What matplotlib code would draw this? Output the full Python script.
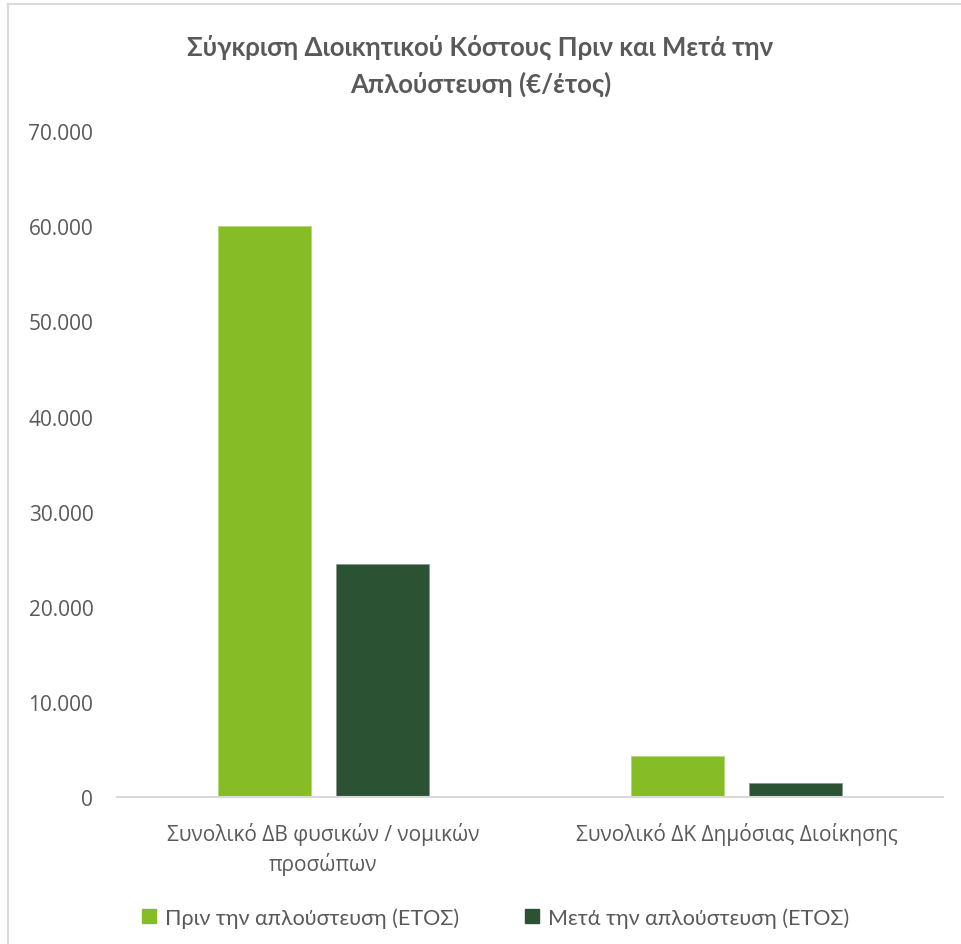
import numpy as np
import matplotlib.pyplot as plt
from matplotlib.lines import Line2D
from matplotlib.ticker import FuncFormatter

categories = ["Συνολικό ΔΒ φυσικών / νομικών\nπροσώπων", "Συνολικό ΔΚ Δημόσιας Διοίκησης"]
series_names = ["Πριν την απλούστευση (ΕΤΟΣ)", "Μετά την απλούστευση (ΕΤΟΣ)"]
before = [60000, 4300]
after = [24500, 1470]
colors = ["#86BC25", "#2C5234"]

title = "Σύγκριση Διοικητικού Κόστους Πριν και Μετά την\nΑπλούστευση (€/έτος)"

narrow = ["Lato", "DejaVu Sans"]
sans = ["Open Sans", "DejaVu Sans"]
text_color = "#595959"

fig = plt.figure(figsize=(9.61, 9.45), dpi=100)
ax = fig.add_axes([0.1217, 0.1552, 0.8596, 0.7051])

x = np.arange(len(categories))
w = 0.225
off = 0.143
ax.bar(x - off, before, w, color=colors[0], edgecolor="#B5D77A", linewidth=0.6)
ax.bar(x + off, after, w, color=colors[1], edgecolor="#8A9A8D", linewidth=0.6)

ax.set_xlim(-0.5, len(categories) - 0.5)
ax.set_ylim(0, 70000)
ax.set_yticks(np.arange(0, 70001, 10000))
ax.yaxis.set_major_formatter(FuncFormatter(lambda v, p: f"{int(v):,}".replace(",", ".")))
ax.set_xticks(x)
ax.set_xticklabels(categories)

for s in ["top", "right", "left"]:
    ax.spines[s].set_visible(False)
ax.spines["bottom"].set_color("#D9D9D9")
ax.spines["bottom"].set_linewidth(1.5)
ax.tick_params(axis="both", length=0, colors=text_color, labelsize=15)
ax.tick_params(axis="y", pad=17)
ax.tick_params(axis="x", pad=18)
for lab in ax.get_xticklabels() + ax.get_yticklabels():
    lab.set_family(sans)
    lab.set_color(text_color)
for lab in ax.get_xticklabels():
    lab.set_linespacing(1.35)

fig.text(0.5, 0.930, title, ha="center", va="center", fontsize=18.5, fontweight="bold",
         color=text_color, family=narrow, linespacing=1.55)

handles = [Line2D([], [], marker="s", linestyle="none", markersize=10,
                  markerfacecolor=c, markeredgecolor=c) for c in colors]
fig.legend(handles, series_names, loc="center", bbox_to_anchor=(0.515, 0.028), ncol=2,
           frameon=False, prop={"family": narrow, "size": 15.5}, labelcolor=text_color,
           handletextpad=0.35, columnspacing=3.0, handlelength=0.8)

# chart area border (only left and top edges fall inside the image)
fig.add_artist(Line2D([0.0083, 0.0083], [0, 0.9947], color="#D9D9D9", linewidth=1.5,
                      transform=fig.transFigure))
fig.add_artist(Line2D([0.0083, 1.0], [0.9947, 0.9947], color="#D9D9D9", linewidth=1.5,
                      transform=fig.transFigure))

plt.savefig("out.png", dpi=100)
